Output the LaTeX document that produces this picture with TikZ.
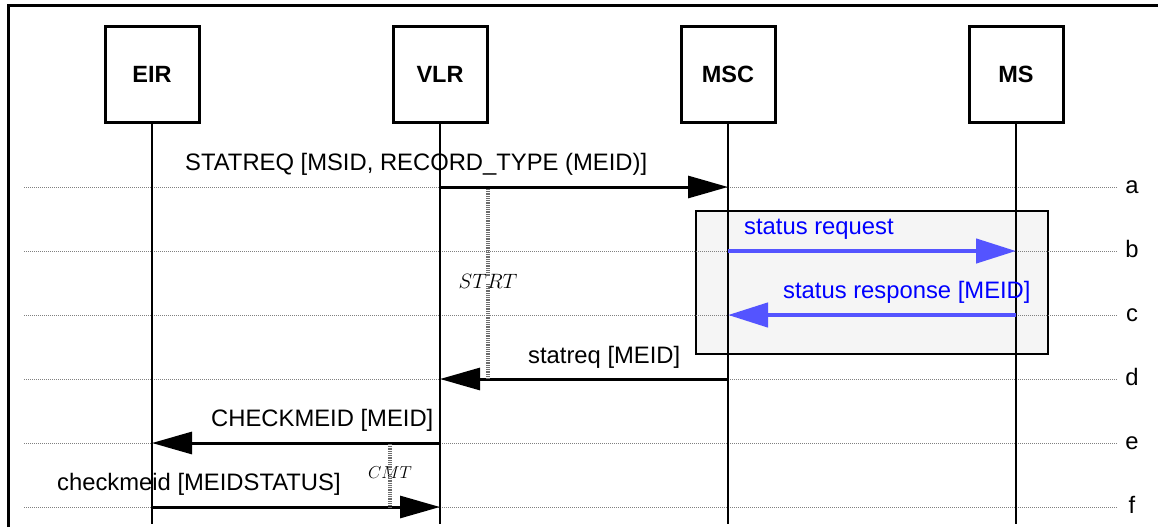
\documentclass[tikz,border=0pt]{standalone}
\usepackage{fontspec}
\setmainfont{Liberation Sans}
\usetikzlibrary{arrows.meta}
\definecolor{hatchblue}{rgb}{0.33,0.33,1}
\definecolor{boxgray}{rgb}{0.96,0.96,0.96}
\tikzset{
  entity/.style={draw, line width=3pt, minimum width=94pt, minimum height=95pt, inner sep=0pt, font=\fontsize{23.5}{27}\selectfont\bfseries},
  lifeline/.style={line width=1.2pt},
  rowline/.style={gray, line width=1pt, dash pattern=on 1pt off 1pt},
  msg/.style={line width=3pt, -{Triangle[length=40pt,width=22pt]}},
  bluemsg/.style={hatchblue, line width=4.5pt, -{Triangle[length=40pt,width=24pt]}},
  lbl/.style={anchor=base west, inner sep=0pt, font=\fontsize{23.8}{27}\selectfont},
  bluelbl/.style={lbl, text=blue},
  rowlbl/.style={anchor=base, inner sep=0pt, font=\fontsize{23.8}{27}\selectfont},
  timer/.style={gray!85!black, line width=3.5pt, dash pattern=on 1pt off 0.8pt},
  timerlbl/.style={inner sep=0pt}
}
\begin{document}
\begin{tikzpicture}[x=1pt,y=-1pt]
\useasboundingbox (0,0) rectangle (1158,527);
% frame
\draw[line width=3pt] (8,527) -- (8,5.5) -- (1158,5.5);
% grouping box
\node[draw, line width=2.5pt, fill=boxgray, minimum width=352pt, minimum height=143pt, inner sep=0pt] (grp) at (872,282.5) {};
% row lines and labels
\foreach \r/\y in {a/187,b/251,c/315,d/379,e/443,f/507}{
  \coordinate (L\r) at (24,\y);
  \coordinate (R\r) at (1118,\y);
  \draw[rowline] (L\r) -- (R\r);
  \node[rowlbl] (lab\r) at (1132,\y+6) {\r};
}
% entities
\node[entity] (EIR) at (152,74.5) {EIR};
\node[entity] (VLR) at (440,74.5) {VLR};
\node[entity] (MSC) at (728,74.5) {MSC};
\node[entity] (MS) at (1016,74.5) {MS};
\foreach \n in {EIR,VLR,MSC,MS}{
  \coordinate (\n-end) at ([yshift=-400pt]\n.south);
  \draw[lifeline] (\n.south) -- (\n-end);
}
% message points
\foreach \n/\x in {EIR/152,VLR/440,MSC/728,MS/1016}{
  \foreach \r/\y in {a/187,b/251,c/315,d/379,e/443,f/507}{
    \coordinate (\n\r) at (\x,\y);
  }
}
% messages
\draw[msg] (VLRa) -- (MSCa);
\node[lbl] (ta) at (185,170) {STATREQ [MSID, RECORD\_TYPE (MEID)]};
\draw[bluemsg] (MSCb) -- (MSb);
\node[bluelbl] (tb) at (744,234) {status request};
\draw[bluemsg] (MSc) -- (MSCc);
\node[bluelbl] (tc) at (783,298) {status response [MEID]};
\draw[msg] (MSCd) -- (VLRd);
\node[lbl] (td) at (528,363) {statreq [MEID]};
\draw[msg] (VLRe) -- (EIRe);
\node[lbl] (te) at (211,426) {CHECKMEID [MEID]};
\draw[msg] (EIRf) -- (VLRf);
\node[lbl] (tf) at (57,490) {checkmeid [MEIDSTATUS]};
% timers
\node[timerlbl, font=\fontsize{22}{25}\selectfont] (strt) at (488,281) {$STRT$};
\coordinate (s1) at (488,189);
\coordinate (s2) at (488,379);
\draw[timer] (s1) -- ([yshift=-2pt]strt.north);
\draw[timer] ([yshift=4pt]strt.south) -- (s2);
\node[timerlbl, font=\fontsize{16.5}{19}\selectfont] (cmt) at (390,473) {$CMT$};
\coordinate (c1) at (390,444);
\coordinate (c2) at (390,507);
\draw[timer] (c1) -- ([yshift=-3pt]cmt.north);
\draw[timer] ([yshift=5pt]cmt.south) -- (c2);
\end{tikzpicture}
\end{document}
